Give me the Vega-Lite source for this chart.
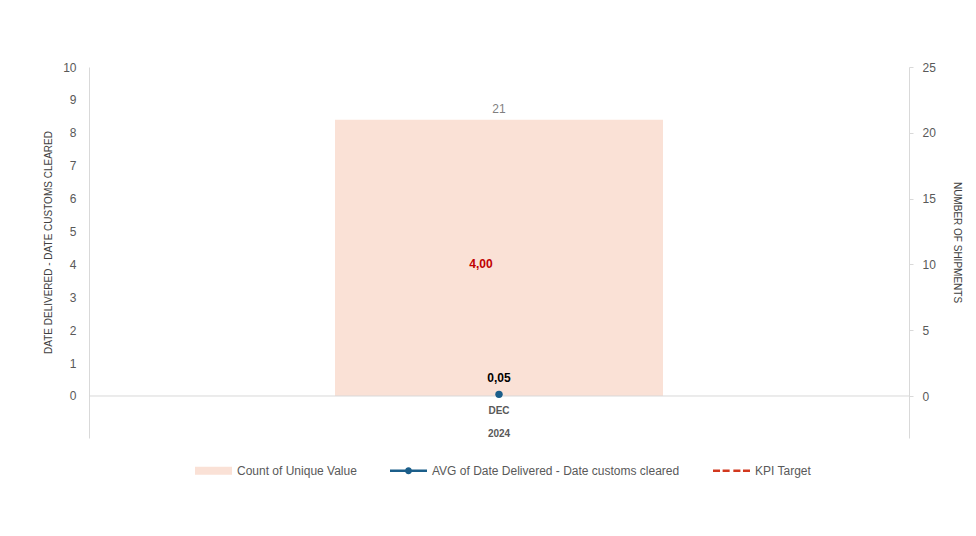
{
  "$schema": "https://vega.github.io/schema/vega-lite/v6.json",
  "width": 820,
  "height": 371,
  "autosize": "none",
  "padding": {"left": 89, "top": 67, "right": 67, "bottom": 98},
  "background": "white",
  "config": {
    "font": "Liberation Sans",
    "view": {"stroke": null},
    "locale": {"number": {"decimal": ",", "thousands": ".", "grouping": [3], "currency": ["", " €"]}}
  },
  "data": {"values": [{"period": "DEC 2024", "count": 21, "avg": 0.05, "kpi": 4}]},
  "layer": [
    {
      "layer": [
        {
          "mark": {"type": "bar", "width": {"band": 0.4}},
          "encoding": {
            "x": {
              "field": "period", "type": "nominal",
              "scale": {"paddingInner": 0, "paddingOuter": 0},
              "axis": {
                "orient": "bottom", "offset": -42, "title": null, "domain": false, "ticks": false,
                "labelAngle": 0, "labelExpr": "split(datum.label, ' ')", "labelFontWeight": "bold",
                "labelColor": "#595959", "labelFontSize": 10, "labelLineHeight": 23, "labelPadding": 9,
                "labelBaseline": "top"
              }
            },
            "y": {
              "field": "count", "type": "quantitative",
              "scale": {"domain": [-3.19, 25], "nice": false, "zero": false},
              "axis": {
                "orient": "right", "values": [0, 5, 10, 15, 20, 25], "tickCount": 6, "grid": false, "labelOverlap": false,
                "domainColor": "#D9D9D9", "tickColor": "#D9D9D9", "tickSize": 4,
                "labelColor": "#595959", "labelFontSize": 12, "labelPadding": 9,
                "title": "NUMBER OF SHIPMENTS", "titleFontSize": 10, "titleFontWeight": "normal",
                "titleColor": "#404040", "titlePadding": 16, "titleY": 175
              }
            },
            "color": {
              "datum": "Count of Unique Value",
              "scale": {
                "domain": ["Count of Unique Value", "AVG of Date Delivered - Date customs cleared", "KPI Target"],
                "range": ["#FAE1D6", "#1B5E8A", "#D2381E"]
              },
              "legend": {
                "title": null, "orient": "none", "legendX": 106, "legendY": 385,
                "direction": "horizontal", "symbolSize": 1369, "labelFontSize": 12, "labelLimit": 500,
                "labelColor": "#595959", "columnPadding": 33, "labelOffset": 5,
                "encoding": {
                  "symbols": {
                    "shape": {"value": {"expr": "datum.value === 'Count of Unique Value' ? 'M-1,-0.22H1V0.22H-1Z' : datum.value === 'KPI Target' ? 'M-1,-0.07H-0.62V0.07H-1Z M-0.48,-0.07H-0.1V0.07H-0.48Z M0.1,-0.07H0.48V0.07H0.1Z M0.62,-0.07H1V0.07H0.62Z' : 'M-1,-0.07H1V0.07H-1Z M0.19,0 A0.19,0.19 0 1,1 -0.19,0 A0.19,0.19 0 1,1 0.19,0Z'"}},
                    "fill": {"value": {"expr": "scale('color', datum.value)"}},
                    "stroke": {"value": "transparent"},
                    "strokeWidth": {"value": 0},
                    "opacity": {"value": 1}
                  }
                }
              }
            }
          }
        },
        {
          "mark": {"type": "text", "baseline": "alphabetic", "dy": -7, "color": "#7F7F7F", "fontSize": 12},
          "encoding": {
            "x": {"field": "period", "type": "nominal"},
            "y": {"field": "count", "type": "quantitative"},
            "text": {"field": "count", "type": "quantitative", "format": "d"}
          }
        }
      ]
    },
    {
      "layer": [
        {
          "mark": {"type": "line", "strokeDash": [4, 2], "strokeWidth": 2},
          "encoding": {
            "x": {"field": "period", "type": "nominal"},
            "y": {
              "field": "kpi", "type": "quantitative",
              "scale": {"domain": [-1.277, 10], "nice": false, "zero": false},
              "axis": {
                "orient": "left", "values": [0, 1, 2, 3, 4, 5, 6, 7, 8, 9, 10], "tickCount": 12,
                "labelExpr": "datum.value < 0 ? '' : datum.label",
                "grid": false, "labelOverlap": false,
                "domainColor": "#D9D9D9", "ticks": false,
                "labelColor": "#595959", "labelFontSize": 12, "labelPadding": 13,
                "title": "DATE DELIVERED - DATE CUSTOMS CLEARED", "titleFontSize": 10, "titleFontWeight": "normal",
                "titleColor": "#404040", "titlePadding": 9, "titleY": 175
              }
            },
            "color": {"datum": "KPI Target"}
          }
        },
        {
          "mark": {"type": "rule", "color": "#D9D9D9", "strokeWidth": 1},
          "encoding": {
            "y": {"datum": 0, "type": "quantitative"}
          }
        },
        {
          "mark": {"type": "text", "baseline": "middle", "dx": -18, "color": "#C00000", "fontSize": 12, "fontWeight": "bold"},
          "encoding": {
            "x": {"field": "period", "type": "nominal"},
            "y": {"field": "kpi", "type": "quantitative"},
            "text": {"field": "kpi", "type": "quantitative", "format": ".2f"}
          }
        },
        {
          "mark": {"type": "point", "filled": true, "size": 55, "opacity": 1},
          "encoding": {
            "x": {"field": "period", "type": "nominal"},
            "y": {"field": "avg", "type": "quantitative"},
            "color": {"datum": "AVG of Date Delivered - Date customs cleared"}
          }
        },
        {
          "mark": {"type": "text", "baseline": "middle", "dy": -16, "color": "#000000", "fontSize": 12, "fontWeight": "bold"},
          "encoding": {
            "x": {"field": "period", "type": "nominal"},
            "y": {"field": "avg", "type": "quantitative"},
            "text": {"field": "avg", "type": "quantitative", "format": ".2f"}
          }
        }
      ]
    }
  ],
  "resolve": {"scale": {"y": "independent"}, "axis": {"y": "independent"}}
}
